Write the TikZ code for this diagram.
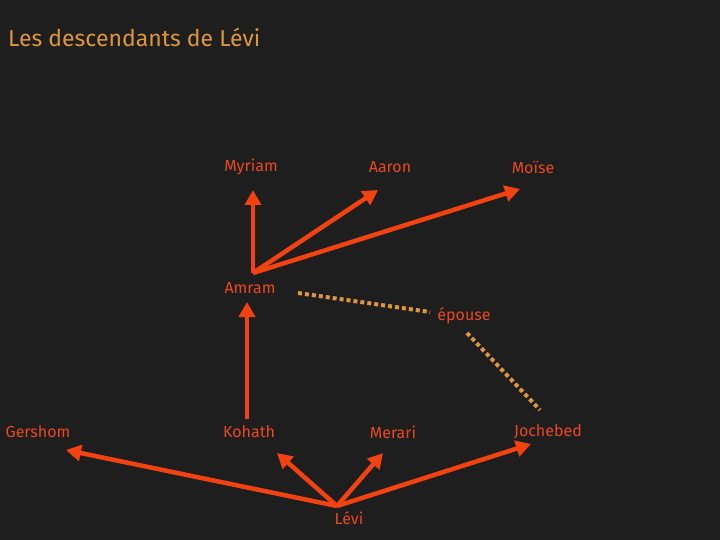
\documentclass[tikz,border=0pt]{standalone}
\usepackage{fontspec}
\setmainfont{Fira Sans}
\usetikzlibrary{arrows.meta}
\definecolor{bg}{RGB}{30,30,30}
\definecolor{lbl}{RGB}{236,72,30}
\definecolor{arr}{RGB}{242,66,18}
\definecolor{gold}{RGB}{222,150,60}
\tikzset{
  lab/.style={text=lbl, font=\fontsize{16}{18}\selectfont, inner sep=1pt},
  ttl/.style={text=gold, font=\fontsize{23}{27}\selectfont, anchor=west, inner sep=0pt},
  par/.style={draw=arr, line width=4.5pt, -{Triangle[length=15pt,width=16pt]}},
  wed/.style={draw=gold, line width=4pt, dash pattern=on 4pt off 3pt}
}
\begin{document}
\begin{tikzpicture}[x=1pt,y=-1pt]
\fill[bg] (0,0) rectangle (720,540);
\useasboundingbox (0,0) rectangle (720,540);
\node[ttl] (title) at (8,37) {Les descendants de Lévi};
\node[lab] (myriam) at (251,167) {Myriam};
\node[lab] (aaron) at (390,167) {Aaron};
\node[lab] (moise) at (533,167) {Moïse};
\node[lab] (amram) at (250,288) {Amram};
\node[lab] (epouse) at (464,316) {épouse};
\node[lab] (gershom) at (38,432) {Gershom};
\node[lab] (kohath) at (249,432) {Kohath};
\node[lab] (merari) at (393,432) {Merari};
\node[lab] (jochebed) at (548,432) {Jochebed};
\node[lab] (levi) at (349,518) {Lévi};
\coordinate (amr) at (253,273);
\coordinate (lv) at (337,506);
\coordinate (koh) at (247,419);
\coordinate (t1) at (253,190);
\coordinate (t2) at (378,190);
\coordinate (t3) at (520,189);
\coordinate (t4) at (247,302);
\coordinate (g1) at (66,450);
\coordinate (g2) at (277,453);
\coordinate (g3) at (383,453);
\coordinate (g4) at (531,444);
\coordinate (w1) at (298,293);
\coordinate (w2) at (430,312);
\coordinate (w3) at (467,333);
\coordinate (w4) at (540,410);
\draw[par] (amr) -- (t1);
\draw[par] (amr) -- (t2);
\draw[par] (amr) -- (t3);
\draw[par] (koh) -- (t4);
\draw[par] (lv) -- (g1);
\draw[par] (lv) -- (g2);
\draw[par] (lv) -- (g3);
\draw[par] (lv) -- (g4);
\draw[wed] (w1) -- (w2);
\draw[wed] (w3) -- (w4);
\end{tikzpicture}
\end{document}
